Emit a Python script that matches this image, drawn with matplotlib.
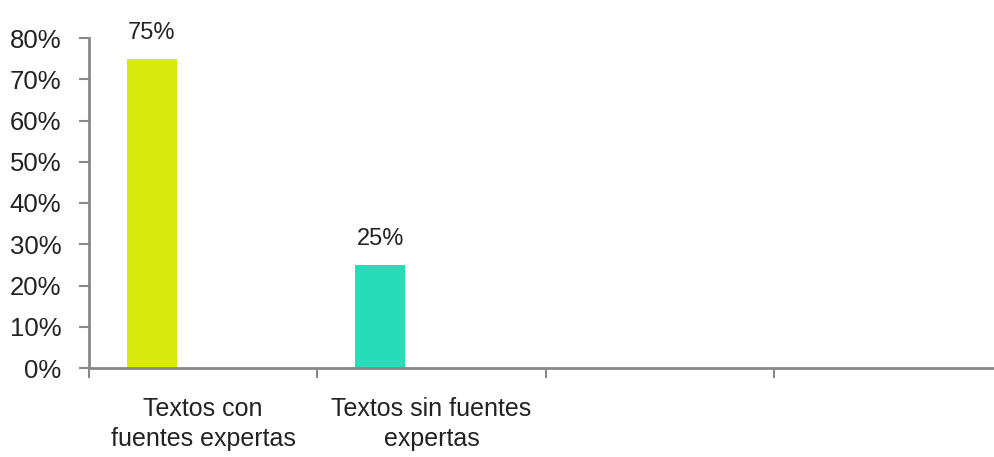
import numpy as np
import matplotlib.pyplot as plt
from matplotlib.ticker import FixedLocator

plt.rcParams['font.family'] = ['Liberation Sans', 'DejaVu Sans']

# data
categories = ["Textos con\nfuentes expertas", "Textos sin fuentes\nexpertas"]
values = [0.75, 0.25]
colors = ["#D9E80F", "#27DDB9"]
n_slots = 4

fig = plt.figure(figsize=(9.95, 4.57), dpi=100)
ax = fig.add_axes([89 / 995, 89 / 457, 906 / 995, 330 / 457])

x = np.arange(len(categories))
bars = ax.bar(x - 0.225, values, width=0.22, color=colors)

for b, v in zip(bars, values):
    ax.text(b.get_x() + b.get_width() / 2, v + 0.035, f"{v:.0%}",
            ha="center", va="bottom", fontsize=17, color="#222222")

ax.set_ylim(0, 0.8)
ax.set_yticks(np.arange(0, 0.81, 0.1))
ax.set_yticklabels([f"{int(round(t * 100))}%" for t in np.arange(0, 0.81, 0.1)])
ax.set_xlim(-0.5, -0.5 + 906 / 228.3)

# category boundaries as major ticks, labels at slot centres
ax.xaxis.set_major_locator(FixedLocator(np.arange(n_slots) - 0.5))
ax.set_xticklabels([])
ax.xaxis.set_minor_locator(FixedLocator(x))
ax.set_xticklabels(categories, minor=True)
ax.tick_params(axis="x", which="minor", length=0, pad=21, labelsize=18,
               labelcolor="#222222")
ax.tick_params(axis="x", which="major", length=7, width=1.5, color="#888888")
ax.tick_params(axis="y", length=7, width=1.5, color="#888888", pad=13,
               labelsize=18.5, labelcolor="#222222")

for s in ["top", "right"]:
    ax.spines[s].set_visible(False)
for s in ["left", "bottom"]:
    ax.spines[s].set_color("#888888")
    ax.spines[s].set_linewidth(2)

for lbl in ax.get_xticklabels(minor=True):
    lbl.set_linespacing(1.3)

fig.savefig("out.png", dpi=100)
